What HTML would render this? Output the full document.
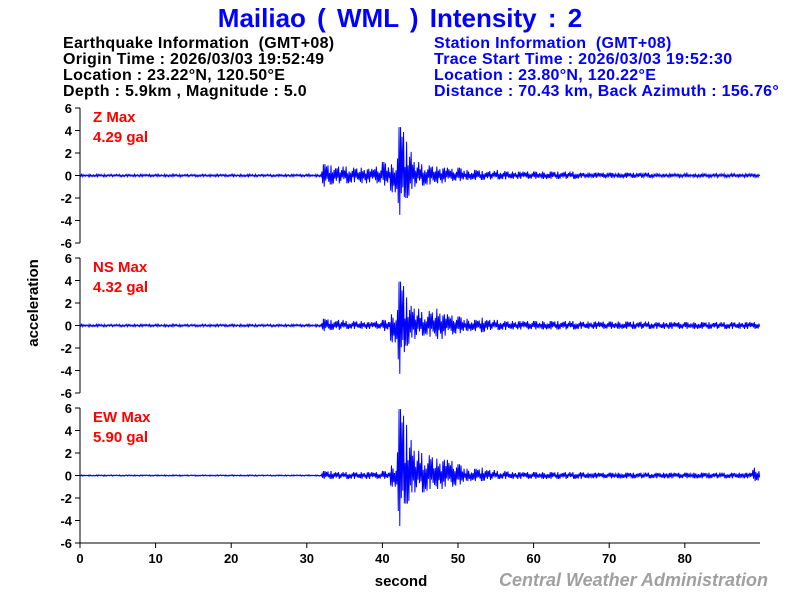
<!DOCTYPE html>
<html><head><meta charset="utf-8"><style>
body{margin:0;background:#fff;width:800px;height:600px;overflow:hidden}
svg{display:block;font-family:"Liberation Sans",Arial,sans-serif}
</style></head><body>
<svg id="c" width="800" height="600">
<text x="400" y="27" text-anchor="middle" font-size="26" font-weight="bold" fill="#0000ff" word-spacing="4">Mailiao ( WML ) Intensity : 2</text>
<g font-size="16" font-weight="bold" letter-spacing="0.3">
<text x="63" y="48" xml:space="preserve">Earthquake Information  (GMT+08)</text>
<text x="63" y="64">Origin Time : 2026/03/03 19:52:49</text>
<text x="63" y="80">Location : 23.22°N, 120.50°E</text>
<text x="63" y="96">Depth : 5.9km , Magnitude : 5.0</text>
</g>
<g font-size="16" font-weight="bold" fill="#0000ff" letter-spacing="0.3">
<text x="434" y="48" xml:space="preserve">Station Information  (GMT+08)</text>
<text x="434" y="64">Trace Start Time : 2026/03/03 19:52:30</text>
<text x="434" y="80">Location : 23.80°N, 120.22°E</text>
<text x="434" y="96">Distance : 70.43 km, Back Azimuth : 156.76°</text>
</g>
<text transform="translate(38,303) rotate(-90)" text-anchor="middle" font-size="15" font-weight="bold">acceleration</text>
<text x="401" y="586" text-anchor="middle" font-size="15" font-weight="bold">second</text>
<text x="768" y="586" text-anchor="end" font-size="18" font-weight="bold" font-style="italic" fill="#a0a0a0">Central Weather Administration</text>
<g id="plots"></g>
</svg>
<script>
const xTicks=[0,10,20,30,40,50,60,70,80];
const yTicks=[6,4,2,0,-2,-4,-6];
const compNames=["Z","NS","EW"];
const maxLabels=["4.29 gal","4.32 gal","5.90 gal"];
// per-second positive / negative envelope (gal), seconds 0..89
function rep(v,n){return Array(n).fill(v);}
const zPos=[].concat(rep(0.1,32),[1.0,0.9,0.8,0.8,0.7,0.7,0.6,0.8,1.2,1.0,4.3,3.0,1.2,1.0,0.9,0.8,0.7,0.6,0.7,0.5,0.5,0.4,0.4,0.5,0.4],rep(0.35,9),rep(0.25,10),rep(0.15,14));
const zNeg=[].concat(rep(-0.1,32),[-1.0,-0.8,-0.7,-0.7,-0.6,-0.7,-0.6,-0.7,-0.9,-1.5,-3.5,-2.0,-1.0,-0.9,-0.8,-0.7,-0.6,-0.5,-0.5,-0.4,-0.4,-0.4,-0.35,-0.35,-0.35],rep(-0.3,9),rep(-0.2,10),rep(-0.15,14));
const nsPos=[].concat(rep(0.1,32),[0.6,0.5,0.5,0.4,0.4,0.4,0.3,0.4,0.5,1.0,3.9,2.5,1.5,1.2,1.3,1.5,1.0,0.9,0.8,0.6,0.5,0.7,0.5,0.5,0.4],rep(0.4,9),rep(0.35,10),rep(0.3,14));
const nsNeg=[].concat(rep(-0.1,32),[-0.5,-0.4,-0.4,-0.3,-0.3,-0.3,-0.3,-0.3,-0.5,-1.5,-4.3,-1.8,-1.2,-0.9,-1.0,-1.2,-0.9,-0.8,-0.7,-0.5,-0.5,-0.6,-0.4,-0.4,-0.4],rep(-0.35,9),rep(-0.3,10),rep(-0.3,14));
const ewPos=[].concat(rep(0.05,32),[0.4,0.4,0.3,0.3,0.3,0.3,0.3,0.3,0.4,0.9,5.9,4.5,2.2,2.0,1.8,1.5,1.4,1.3,1.0,0.6,0.6,0.7,0.5,0.4,0.4],rep(0.3,10),rep(0.25,10),rep(0.25,12),[0.7]);
const ewNeg=[].concat(rep(-0.05,32),[-0.3,-0.3,-0.3,-0.3,-0.3,-0.3,-0.3,-0.3,-0.3,-1.0,-4.5,-2.5,-1.5,-1.5,-1.2,-1.2,-1.0,-1.0,-0.8,-0.5,-0.5,-0.5,-0.4,-0.3,-0.3],rep(-0.3,10),rep(-0.25,10),rep(-0.25,12),[-0.5]);
const posEnv=[zPos,nsPos,ewPos], negEnv=[zNeg,nsNeg,ewNeg];
const wiggle=[1,0.45,0.8,0.3,0.9,0.55,0.35,0.7,0.6,0.25];

const X0=80,PX=7.56;
const xs=s=>X0+s*PX;
const panelTop=[108,258,408],PH=135;
const ys=(p,v)=>panelTop[p]+PH/2-v*(PH/12);
const NS="http://www.w3.org/2000/svg";
const g=document.getElementById('plots');
function mk(t,a,par){const e=document.createElementNS(NS,t);for(const k in a)e.setAttribute(k,a[k]);(par||g).appendChild(e);return e;}

for(let p=0;p<3;p++){
  const pg=mk('g',{});
  
  
  const ax=mk('line',{x1:X0,y1:panelTop[p],x2:X0,y2:panelTop[p]+PH,stroke:'#000','stroke-width':1},pg);
  
  
  yTicks.forEach(v=>{
    const y=ys(p,v);
    mk('line',{x1:X0-5,y1:y,x2:X0,y2:y,stroke:'#000'},pg);
    const t=mk('text',{x:X0-8,y:y+5,'text-anchor':'end','font-size':13,'font-weight':'bold'},pg);
    t.textContent=v;
    
    
  });
  const l1=mk('text',{x:93,y:panelTop[p]+14,'font-size':15,'font-weight':'bold',fill:'#ff0000'},pg);
  l1.textContent=compNames[p]+' Max';
  
  
  const l2=mk('text',{x:93,y:panelTop[p]+34,'font-size':15,'font-weight':'bold',fill:'#ff0000'},pg);
  l2.textContent=maxLabels[p];
  
  
  let d='';const P=posEnv[p],N=negEnv[p];const n=10;
  for(let s=0;s<P.length;s++){
    for(let k=0;k<n;k++){
      const w=wiggle[(k+s*3)%wiggle.length];
      const v=(k%2===0)?P[s]*(k===2?1:w):N[s]*(k===3?1:w);
      const x=xs(s+k/n);
      d+=(d?'L':'M')+x.toFixed(2)+' '+ys(p,v).toFixed(2);
    }
  }
  const tr=mk('path',{d:d,fill:'none',stroke:'#0000ff','stroke-width':1},pg);
  
  
}
const xa=mk('line',{x1:X0,y1:543,x2:760,y2:543,stroke:'#000'});


xTicks.forEach(v=>{
  const x=xs(v);
  mk('line',{x1:x,y1:543,x2:x,y2:548,stroke:'#000'});
  const t=mk('text',{x:x,y:563,'text-anchor':'middle','font-size':13,'font-weight':'bold'});
  t.textContent=v;
  
  
});
</script>
</body></html>
